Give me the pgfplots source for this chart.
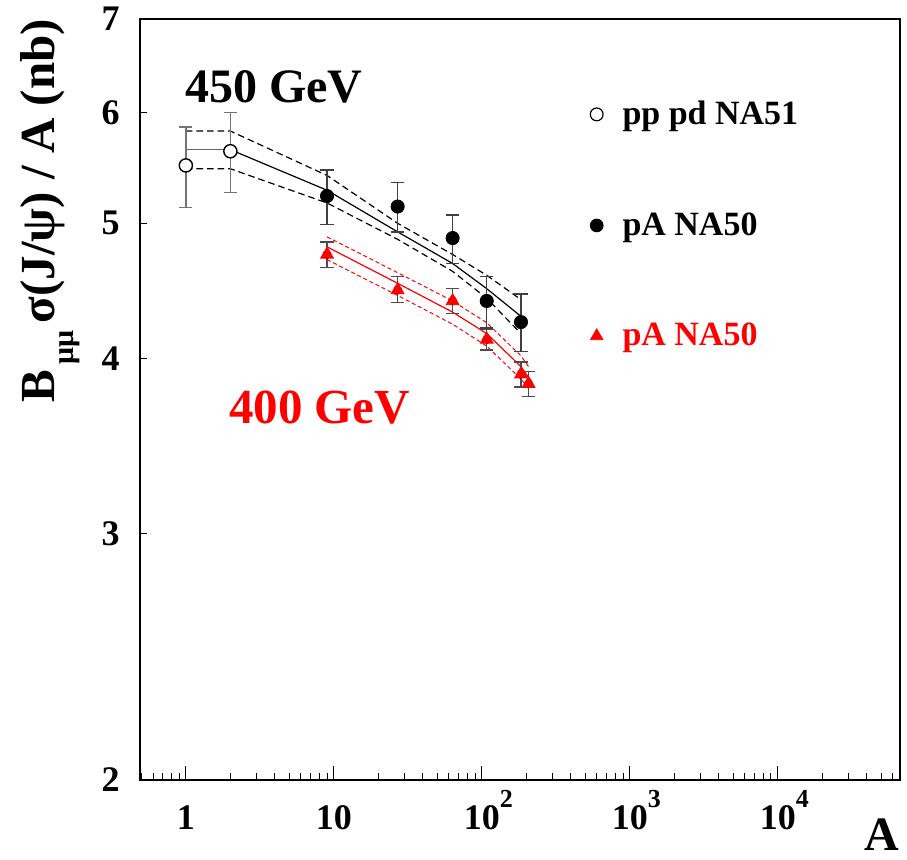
\documentclass[border=0pt]{standalone}
\usepackage{fontspec}
\setmainfont{Liberation Serif}
\usepackage{pgfplots}
\usepackage{pgfplotstable}
\pgfplotsset{compat=1.18}

\pgfplotstableread{
A v ep em
1 5.50 0.36 0.37
2 5.63 0.37 0.37
}\naone

\pgfplotstableread{
A v ep em
9 5.23 0.23 0.24
27 5.14 0.21 0.21
63.5 4.88 0.19 0.20
108 4.40 0.18 0.19
184 4.25 0.20 0.20
}\nafifty

\pgfplotstableread{
A v ep em
9 4.75 0.10 0.10
27 4.48 0.10 0.09
63.5 4.40 0.09 0.09
108 4.13 0.07 0.07
184 3.90 0.08 0.08
207.2 3.84 0.08 0.08
}\nafour

\pgfplotstableread{
A fit up lo
1 5.645 5.82 5.47
2 5.645 5.82 5.47
9 5.28 5.41 5.17
27 4.93 5.00 4.87
63.5 4.68 4.75 4.62
108 4.49 4.59 4.42
184 4.29 4.41 4.17
}\fitfifty

\pgfplotstableread{
A fit up lo
9 4.81 4.89 4.71
27 4.53 4.61 4.44
63.5 4.32 4.40 4.235
108 4.17 4.245 4.085
184 3.95 4.02 3.87
207.2 3.88 3.95 3.81
}\fitfour

\newcommand{\tsup}[1]{\rlap{\smash{\raisebox{11pt}{\fontsize{13}{13}\selectfont\bfseries #1}}}}

\pgfplotsset{
  errstyle/.style={
    forget plot, only marks, mark=none,
    error bars/.cd, y dir=both, y explicit,
    error mark=none,
    error bar style={draw=#1, line width=0.7pt},
  },
  capstyle/.style={
    forget plot, only marks, mark=-, mark size=3.3pt,
    mark options={draw=#1, line width=0.7pt},
  },
}

\begin{document}
\begin{tikzpicture}
\useasboundingbox (-70pt,-40pt) rectangle (383.5pt,390pt);
\begin{axis}[
  at={(0pt,0pt)}, anchor=south west,
  scale only axis, width=380pt, height=380.5pt,
  xmode=log, ymode=log,
  xmin=0.49, xmax=67000, ymin=2, ymax=7,
  axis line style={line width=0.6pt},
  tick align=inside, xtick pos=left, ytick pos=left,
  xtick={1,10,100,1000,10000},
  xticklabels={1,10,{10\tsup{2}},{10\tsup{3}},{10\tsup{4}}},
  minor xtick={0.5,0.6,0.7,0.8,0.9,2,3,4,5,6,7,8,9,20,30,40,50,60,70,80,90,200,300,400,500,600,700,800,900,2000,3000,4000,5000,6000,7000,8000,9000,20000,30000,40000,50000,60000},
  ytick={2,3,4,5,6,7}, yticklabels={2,3,4,5,6,7},
  minor ytick={3,4,5,6},
  every major y tick/.append style={draw=none},
  major tick length=7pt, minor tick length=3.5pt,
  every tick/.append style={black, line width=0.5pt},
  xticklabel style={font=\fontsize{18}{18}\selectfont\bfseries, inner sep=0pt, anchor=north},
  yticklabel style={font=\fontsize{18}{18}\selectfont\bfseries, inner sep=0pt, anchor=east},
  xticklabel shift=12.5pt, yticklabel shift=10pt,
  legend image code/.code={\draw[#1] plot coordinates {(0pt,0pt)};},
  legend cell align=left,
  legend style={draw=none, fill=none, inner sep=0pt, at={(axis description cs:0.592,0.7293)}, anchor=west,
    row sep=42.5pt, font=\fontsize{17}{17}\selectfont\bfseries, nodes={inner sep=0pt},
    /tikz/every odd column/.append style={column sep=9.7pt}},
]
% fit lines 450 GeV
\addplot[forget plot, black, line width=0.6pt, dash pattern=on 3.3pt off 2pt] table[x=A, y=up] {\fitfifty};
\addplot[forget plot, black, line width=0.6pt, dash pattern=on 3.3pt off 2pt] table[x=A, y=lo] {\fitfifty};
\addplot[forget plot, black!60, line width=0.7pt] coordinates {(1,5.645) (2,5.645)};
\addplot[forget plot, black, line width=0.6pt, skip coords between index={0}{1}] table[x=A, y=fit] {\fitfifty};
% fit lines 400 GeV
\addplot[forget plot, red, line width=0.5pt, dash pattern=on 2pt off 1.4pt] table[x=A, y=up] {\fitfour};
\addplot[forget plot, red, line width=0.5pt, dash pattern=on 2pt off 1.4pt] table[x=A, y=lo] {\fitfour};
\addplot[forget plot, red, line width=0.6pt] table[x=A, y=fit] {\fitfour};
% error bars
\addplot[errstyle=black!55] table[x=A, y=v, y error plus=ep, y error minus=em] {\naone};
\addplot[errstyle=black!75] table[x=A, y=v, y error plus=ep, y error minus=em] {\nafifty};
\addplot[errstyle=black!70] table[x=A, y=v, y error plus=ep, y error minus=em] {\nafour};
% error bar caps
\addplot[capstyle=black!55] table[x=A, y expr=\thisrow{v}+\thisrow{ep}] {\naone};
\addplot[capstyle=black!55] table[x=A, y expr=\thisrow{v}-\thisrow{em}] {\naone};
\addplot[capstyle=black!75] table[x=A, y expr=\thisrow{v}+\thisrow{ep}] {\nafifty};
\addplot[capstyle=black!75] table[x=A, y expr=\thisrow{v}-\thisrow{em}] {\nafifty};
\addplot[capstyle=black!70] table[x=A, y expr=\thisrow{v}+\thisrow{ep}] {\nafour};
\addplot[capstyle=black!70] table[x=A, y expr=\thisrow{v}-\thisrow{em}] {\nafour};
% markers
\addplot[forget plot, only marks, mark=*, mark size=3.3pt, mark options={draw=black, fill=white, line width=0.7pt}]
  table[x=A, y=v] {\naone};
\addplot[forget plot, only marks, mark=*, mark size=3.3pt, mark options={draw=black, fill=black}]
  table[x=A, y=v] {\nafifty};
\addplot[forget plot, only marks, mark=triangle*, mark size=3.7pt, mark options={draw=red, fill=red}]
  table[x=A, y=v] {\nafour};
% legend
\addlegendimage{only marks, mark=*, mark size=3.2pt, mark options={draw=black, fill=white, line width=0.6pt}}
\addlegendentry{pp pd NA51}
\addlegendimage{only marks, mark=*, mark size=3.2pt, mark options={draw=black, fill=black}}
\addlegendentry{pA NA50}
\addlegendimage{only marks, mark=triangle*, mark size=3.6pt, mark options={draw=red, fill=red}}
\addlegendentry[text=red]{pA NA50}
\end{axis}
\node[anchor=base west, font=\fontsize{24}{24}\selectfont\bfseries] at (19pt,338.5pt) {450 GeV};
\node[anchor=base west, font=\fontsize{24.5}{24.5}\selectfont\bfseries, text=red] at (41pt,178pt) {400 GeV};
\node[anchor=base, font=\fontsize{24}{24}\selectfont\bfseries, inner sep=0pt] at (371pt,-35.5pt) {A};
\node[rotate=90, anchor=base, inner sep=0pt, font=\fontsize{24.5}{24.5}\selectfont\bfseries] at (-42.5pt,284.5pt)
  {B\hspace{3pt}\raisebox{-9.5pt}{\fontsize{15}{15}\selectfont μμ}\hspace{3.5pt}σ(J/ψ) / A (nb)};
\end{tikzpicture}
\end{document}
